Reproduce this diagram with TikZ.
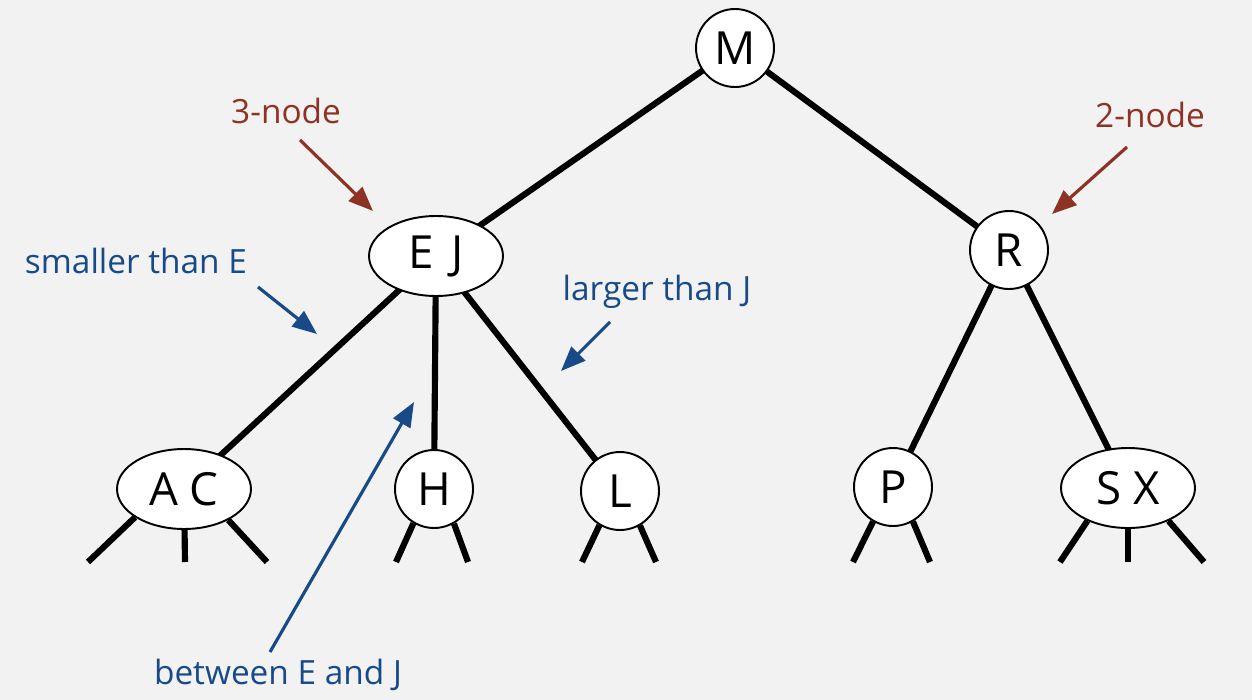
\documentclass[tikz,border=0pt]{standalone}
\usepackage{fontspec}
\setmainfont{Open Sans}
\usetikzlibrary{arrows.meta,shapes.geometric}
\definecolor{bg}{HTML}{F2F2F2}
\definecolor{notered}{HTML}{8E3223}
\definecolor{noteblue}{HTML}{174A87}
\pgfdeclarelayer{paper}
\pgfdeclarelayer{edges}
\pgfsetlayers{paper,edges,main}
\begin{document}
\begin{tikzpicture}[x=0.02cm,y=-0.02cm,
  key/.style={draw=black,line width=1.1pt,fill=white,font=\fontsize{26}{28}\selectfont,inner sep=0pt},
  twonode/.style={key,circle,minimum size=1.56cm},
  threenode/.style={key,ellipse,minimum width=2.68cm,minimum height=1.6cm},
  link/.style={line width=3.5pt},
  note/.style={font=\fontsize{19}{22}\selectfont},
  redtxt/.style={note,text=notered},
  bluetxt/.style={note,text=noteblue},
  redarrow/.style={draw=notered,line width=1.8pt,-{Triangle[length=14pt,width=11pt]}},
  bluearrow/.style={draw=noteblue,line width=1.8pt,-{Triangle[length=14pt,width=11pt]}}]
\begin{pgfonlayer}{paper}
\fill[bg] (0,0) rectangle (1252,700);
\end{pgfonlayer}
\useasboundingbox (0,0) rectangle (1252,700);

% keys
\node[twonode] (M) at (735,48) {M};
\node[threenode] (EJ) at (436,256) {E\hspace{0.4em}J};
\node[twonode] (R) at (1009,250) {R};
\node[threenode] (AC) at (184,489) {A C};
\node[twonode] (H) at (434,489) {H};
\node[twonode] (L) at (620,491) {L};
\node[twonode] (P) at (893,487) {P};
\node[threenode] (SX) at (1128,488) {S X};

% null links below the leaves
\coordinate (acl) at (88,562);
\coordinate (acm) at (185,562);
\coordinate (acr) at (267,562);
\coordinate (hl) at (396,562);
\coordinate (hr) at (468,562);
\coordinate (ll) at (582,562);
\coordinate (lr) at (656,562);
\coordinate (pl) at (853,562);
\coordinate (pr) at (930,562);
\coordinate (sxl) at (1060,562);
\coordinate (sxm) at (1128,562);
\coordinate (sxr) at (1204,562);

\begin{pgfonlayer}{edges}
\draw[link] (M.center) -- (EJ.center);
\draw[link] (M.center) -- (R.center);
\draw[link] (EJ.center) -- (AC.center);
\draw[link] (EJ.center) -- (H.center);
\draw[link] (EJ.center) -- (L.center);
\draw[link] (R.center) -- (P.center);
\draw[link] (R.center) -- (SX.center);

\draw[link] (AC.-150) -- (acl);
\draw[link] (AC.center) -- (acm);
\draw[link] (AC.-35) -- (acr);
\draw[link] (H.-121) -- (hl);
\draw[link] (H.-60) -- (hr);
\draw[link] (L.-121) -- (ll);
\draw[link] (L.-60) -- (lr);
\draw[link] (P.-120) -- (pl);
\draw[link] (P.-60) -- (pr);
\draw[link] (SX.-141) -- (sxl);
\draw[link] (SX.center) -- (sxm);
\draw[link] (SX.-39) -- (sxr);
\end{pgfonlayer}

% annotations
\node[redtxt] (t3) at (286,111) {3-node};
\coordinate (t3a) at (300,140);
\coordinate (t3b) at (373,211);
\draw[redarrow] (t3a) -- (t3b);

\node[redtxt] (t2) at (1150,115) {2-node};
\coordinate (t2a) at (1127,147);
\coordinate (t2b) at (1052,214);
\draw[redarrow] (t2a) -- (t2b);

\node[bluetxt] (ts) at (136,261) {smaller than E};
\coordinate (tsa) at (258,287);
\coordinate (tsb) at (317,334);
\draw[bluearrow] (tsa) -- (tsb);

\node[bluetxt] (tl) at (657,292) {larger than J};
\coordinate (tla) at (610,322);
\coordinate (tlb) at (561,371);
\draw[bluearrow] (tla) -- (tlb);

\node[bluetxt] (tb) at (278,675) {between E and J};
\coordinate (tba) at (270,652);
\coordinate (tbb) at (414,402);
\draw[bluearrow] (tba) -- (tbb);
\end{tikzpicture}
\end{document}
